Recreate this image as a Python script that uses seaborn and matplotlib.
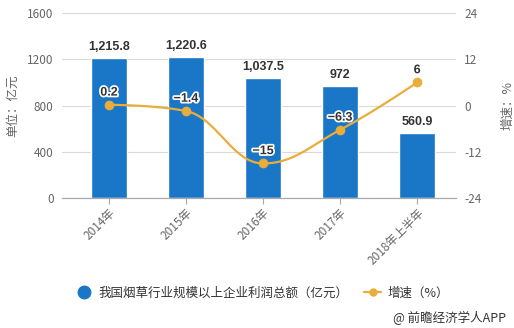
import numpy as np
import pandas as pd
import matplotlib
matplotlib.use("Agg")
import matplotlib.pyplot as plt
import matplotlib.patheffects as pe
from matplotlib.lines import Line2D
import seaborn as sns

categories = ["2014年", "2015年", "2016年", "2017年", "2018年上半年"]
profit = [1215.8, 1220.6, 1037.5, 972, 560.9]
profit_labels = ["1,215.8", "1,220.6", "1,037.5", "972", "560.9"]
growth = [0.2, -1.4, -15, -6.3, 6]
growth_labels = ["0.2", "\u22121.4", "\u221215", "\u22126.3", "6"]
left_ticks = [0, 400, 800, 1200, 1600]
right_ticks = [-24, -12, 0, 12, 24]

BAR = "#1a76c7"
LINE = "#e9ad3a"
TXT = "#666666"
NUM_FONT = ["Liberation Sans", "DejaVu Sans"]

sns.set_theme(style="white")
plt.rcParams["font.family"] = ["Noto Sans CJK SC", "DejaVu Sans"]

fig = plt.figure(figsize=(5.14, 3.28), dpi=100)
ax = fig.add_axes([0.1206, 0.396, 0.766, 0.564])

df = pd.DataFrame({"cat": categories, "profit": profit})
sns.barplot(data=df, x="cat", y="profit", color=BAR, saturation=1, width=0.47, ax=ax)
ax.set_xlim(-0.61, 4.5)
ax.set_ylim(0, 1600)
ax.set_yticks(left_ticks)
ax.set_yticklabels([str(t) for t in left_ticks], color=TXT, fontsize=8.5)
ax.yaxis.grid(True, color="#d9d9d9", linewidth=0.8)
ax.set_axisbelow(True)
for s in ["top", "right", "left"]:
    ax.spines[s].set_visible(False)
ax.spines["bottom"].set_color("#aaaaaa")
ax.spines["bottom"].set_linewidth(0.9)
ax.tick_params(axis="y", length=0, pad=6)
ax.tick_params(axis="x", length=4, width=0.8, color="#aaaaaa", pad=2, bottom=True)
ax.set_xlabel("")
ax.set_ylabel("单位：亿元", color=TXT, fontsize=9, labelpad=6)
ax.set_xticks(range(len(categories)))
ax.set_xticklabels(categories, rotation=45, ha="right", rotation_mode="anchor",
                   color=TXT, fontsize=8.5)

for i, (v, lab) in enumerate(zip(profit, profit_labels)):
    ax.annotate(lab, (i, v), xytext=(0, 3.5), textcoords="offset points",
                ha="center", va="bottom", fontsize=9, fontweight="bold",
                color="#333333", family=NUM_FONT)

ax2 = ax.twinx()
ax2.set_ylim(-24, 24)
ax2.set_yticks(right_ticks)
ax2.set_yticklabels([str(t) for t in right_ticks], color=TXT, fontsize=8.5)
ax2.tick_params(axis="y", length=0, pad=6)
for s in ax2.spines.values():
    s.set_visible(False)
ax2.set_ylabel("增速：%", color=TXT, fontsize=9, rotation=90, labelpad=14)


def spline_path(xv, yv, smoothing=1.5, n=40):
    """Cubic Bezier spline with clamped control points (no false extremes)."""
    denom = smoothing + 1
    m = len(xv)
    lc = [(xv[i], yv[i]) for i in range(m)]
    rc = [(xv[i], yv[i]) for i in range(m)]
    for i in range(1, m - 1):
        x, y = xv[i], yv[i]
        lx, ly = xv[i - 1], yv[i - 1]
        nx, ny = xv[i + 1], yv[i + 1]
        lcx = (smoothing * x + lx) / denom
        lcy = (smoothing * y + ly) / denom
        rcx = (smoothing * x + nx) / denom
        rcy = (smoothing * y + ny) / denom
        corr = (rcy - lcy) * (rcx - x) / (rcx - lcx) + y - rcy
        lcy += corr
        rcy += corr
        if lcy > ly and lcy > y:
            lcy = max(ly, y); rcy = 2 * y - lcy
        elif lcy < ly and lcy < y:
            lcy = min(ly, y); rcy = 2 * y - lcy
        if rcy > ny and rcy > y:
            rcy = max(ny, y); lcy = 2 * y - rcy
        elif rcy < ny and rcy < y:
            rcy = min(ny, y); lcy = 2 * y - rcy
        lc[i] = (lcx, lcy)
        rc[i] = (rcx, rcy)
    t = np.linspace(0, 1, n)[:, None]
    out = []
    for i in range(1, m):
        p0 = np.array([xv[i - 1], yv[i - 1]])
        p1 = np.array(rc[i - 1])
        p2 = np.array(lc[i])
        p3 = np.array([xv[i], yv[i]])
        seg = ((1 - t) ** 3) * p0 + 3 * ((1 - t) ** 2) * t * p1 + 3 * (1 - t) * t ** 2 * p2 + t ** 3 * p3
        out.append(seg)
    pts = np.vstack(out)
    return pts[:, 0], pts[:, 1]


xs = np.arange(len(growth), dtype=float)
ys = np.array(growth, dtype=float)
cx, cy = spline_path(xs, ys)
ax2.plot(cx, cy, color=LINE, linewidth=1.6, zorder=3)
sns.scatterplot(x=xs, y=ys, color=LINE, s=42, edgecolor=LINE, ax=ax2, zorder=4)

for i, (v, lab) in enumerate(zip(growth, growth_labels)):
    ax2.annotate(lab, (i, v), xytext=(0, 4.5), textcoords="offset points",
                 ha="center", va="bottom", fontsize=9, fontweight="bold",
                 color="#333333", family=NUM_FONT,
                 path_effects=[pe.withStroke(linewidth=2.5, foreground="white")])

handles = [
    Line2D([], [], marker="o", linestyle="none", markersize=9, color=BAR),
    Line2D([], [], marker="o", color=LINE, markersize=5, linewidth=1.6),
]
fig.legend(handles, ["我国烟草行业规模以上企业利润总额（亿元）", "增速（%）"],
           loc="center", bbox_to_anchor=(0.51, 0.107), ncol=2, frameon=False,
           fontsize=9, labelcolor="#333333", columnspacing=1.2, handlelength=1.4,
           handletextpad=0.5)

fig.text(0.985, 0.03, "@ 前瞻经济学人APP", ha="right", va="center",
         fontsize=9, color="#333333")

fig.savefig("out.png", dpi=100, facecolor="white")
